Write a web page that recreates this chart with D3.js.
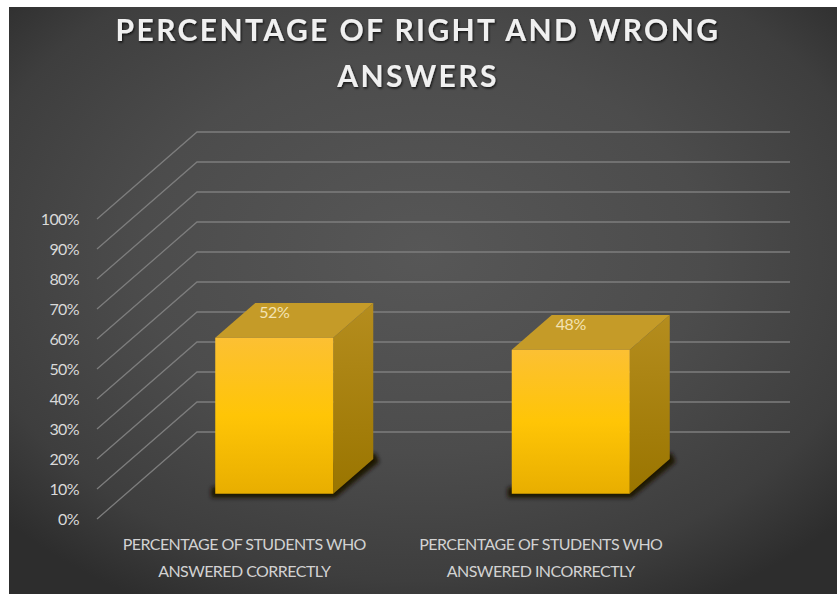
<!DOCTYPE html>
<html>
<head>
<meta charset="utf-8">
<script src="https://cdn.jsdelivr.net/npm/d3@7"></script>
<style>
  html, body { margin: 0; padding: 0; background: #fff; }
  svg { display: block; }
  text { font-family: Lato, "Open Sans", sans-serif; }
</style>
</head>
<body>
<svg id="chart" width="837" height="594"></svg>
<script>
const titleLines = ["PERCENTAGE OF RIGHT AND WRONG", "ANSWERS"];
const categories = ["correct", "incorrect"];
const categoryLabels = [
  ["PERCENTAGE OF STUDENTS WHO", "ANSWERED CORRECTLY"],
  ["PERCENTAGE OF STUDENTS WHO", "ANSWERED INCORRECTLY"]
];
const values = [52, 48];
const valueTicks = [0, 10, 20, 30, 40, 50, 60, 70, 80, 90, 100];

const svg = d3.select("#chart");
const defs = svg.append("defs");

// Oblique projection of the box: depth 0 is the front plane, depth 1 the back wall.
const depthX = 100, depthY = -87;
const plot = { left: 97, right: 690, top: 219, bottom: 519 };
const barDepthStart = 0.29, barDepthEnd = 0.69;

const x = d3.scaleBand().domain(categories).range([plot.left, plot.right])
  .paddingInner(0.602).paddingOuter(0.301);
const y = d3.scaleLinear().domain([0, 100]).range([plot.bottom, plot.top]);
const project = (px, py, z) => [px + z * depthX, py + z * depthY];

// Panel background
const bg = defs.append("radialGradient").attr("id", "panel")
  .attr("cx", "50%").attr("cy", "42%").attr("r", "68%");
[[0, "#575757"], [0.5, "#4c4c4c"], [0.82, "#3e3e3e"], [1, "#2d2d2d"]].forEach(([o, c]) =>
  bg.append("stop").attr("offset", o).attr("stop-color", c));
svg.append("rect").attr("x", 9).attr("y", 7).attr("width", 828).attr("height", 587).attr("fill", "url(#panel)");

// Title
const titleShadow = defs.append("filter").attr("id", "titleShadow")
  .attr("x", "-5%").attr("y", "-20%").attr("width", "110%").attr("height", "140%");
titleShadow.append("feDropShadow").attr("dx", 1).attr("dy", 1.5).attr("stdDeviation", 1)
  .attr("flood-color", "#000").attr("flood-opacity", 0.75);
svg.append("g").selectAll("text").data(titleLines).join("text")
  .attr("x", 418).attr("y", (d, i) => 41 + i * 46)
  .attr("text-anchor", "middle").attr("fill", "#f0f0f0")
  .attr("font-size", 30).attr("font-weight", 700).attr("letter-spacing", 2.4)
  .attr("filter", "url(#titleShadow)").text(d => d);

// Gridlines: front-plane diagonal running into the back wall
const line = d3.line();
svg.append("g").selectAll("path").data(valueTicks).join("path")
  .attr("fill", "none").attr("stroke", "#7d7d7d").attr("stroke-width", 1.3)
  .attr("d", v => line([
    [plot.left, y(v)],
    project(plot.left, y(v), 1),
    project(plot.right, y(v), 1)
  ]));

// Value axis
const axis = d3.axisLeft(y).tickValues(valueTicks).tickFormat(d => d + "%").tickSize(0).tickPadding(0);
const axisG = svg.append("g").attr("transform", "translate(79,0)").call(axis);
axisG.select(".domain").remove();
axisG.selectAll("text").attr("fill", "#d9d9d9").attr("font-size", 16)
  .style("font-family", "Lato, sans-serif").attr("letter-spacing", -0.6);

// Bars
const frontGrad = defs.append("linearGradient").attr("id", "barFront").attr("x1", 0).attr("y1", 0).attr("x2", 0).attr("y2", 1);
[[0, "#fcc033"], [0.5, "#ffc506"], [1, "#e8ae00"]].forEach(([o, c]) =>
  frontGrad.append("stop").attr("offset", o).attr("stop-color", c));
const sideGrad = defs.append("linearGradient").attr("id", "barSide").attr("x1", 0).attr("y1", 0).attr("x2", 0).attr("y2", 1);
[[0, "#b58d1e"], [1, "#9a7500"]].forEach(([o, c]) =>
  sideGrad.append("stop").attr("offset", o).attr("stop-color", c));
const softShadow = defs.append("filter").attr("id", "barShadow")
  .attr("x", "-10%").attr("y", "-10%").attr("width", "120%").attr("height", "120%");
softShadow.append("feGaussianBlur").attr("stdDeviation", 2);

const bars = svg.append("g").selectAll("g").data(categories.map((c, i) => ({ c, v: values[i] }))).join("g");
const poly = pts => "M" + pts.map(p => p.join(",")).join("L") + "Z";
const corners = d => {
  const l = x(d.c), r = l + x.bandwidth(), b = y(0), t = y(d.v);
  return { l, r, b, t };
};

bars.append("path").attr("fill", "#1b1206").attr("filter", "url(#barShadow)")
  .attr("d", d => {
    const { l, r, b } = corners(d);
    return poly([
      project(l - 4, b + 4, barDepthStart),
      project(r + 2, b + 4, barDepthStart),
      project(r + 6, b + 3, barDepthEnd),
      project(r + 2, b - 6, barDepthEnd),
      project(l - 4, b - 6, barDepthStart)
    ]);
  });
bars.append("path").attr("fill", "url(#barSide)")
  .attr("d", d => {
    const { r, b, t } = corners(d);
    return poly([project(r, t, barDepthStart), project(r, t, barDepthEnd), project(r, b, barDepthEnd), project(r, b, barDepthStart)]);
  });
bars.append("path").attr("fill", "#c59b28")
  .attr("d", d => {
    const { l, r, t } = corners(d);
    return poly([project(l, t, barDepthStart), project(l, t, barDepthEnd), project(r, t, barDepthEnd), project(r, t, barDepthStart)]);
  });
bars.append("path").attr("fill", "url(#barFront)")
  .attr("d", d => {
    const { l, r, b, t } = corners(d);
    return poly([project(l, t, barDepthStart), project(r, t, barDepthStart), project(r, b, barDepthStart), project(l, b, barDepthStart)]);
  });

// Value labels sit on the top face of each bar
bars.append("text").attr("text-anchor", "middle").attr("fill", "#f3e3b4")
  .attr("font-size", 16).attr("letter-spacing", -0.4)
  .attr("x", d => project(x(d.c) + x.bandwidth() / 2, y(d.v), 0.29)[0])
  .attr("y", d => project(0, y(d.v), barDepthEnd)[1] + 15)
  .text(d => d.v + "%");

// Category labels, two lines each
const labels = svg.append("g").selectAll("g").data(categories).join("g")
  .attr("transform", d => `translate(${x(d) + x.bandwidth() / 2 - 1},0)`);
labels.selectAll("text").data((d, i) => categoryLabels[i]).join("text")
  .attr("text-anchor", "middle").attr("y", (d, i) => 550 + i * 27)
  .attr("fill", "#d2d2d2").attr("font-size", 16).attr("letter-spacing", -0.55)
  .text(d => d);
</script>
</body>
</html>
